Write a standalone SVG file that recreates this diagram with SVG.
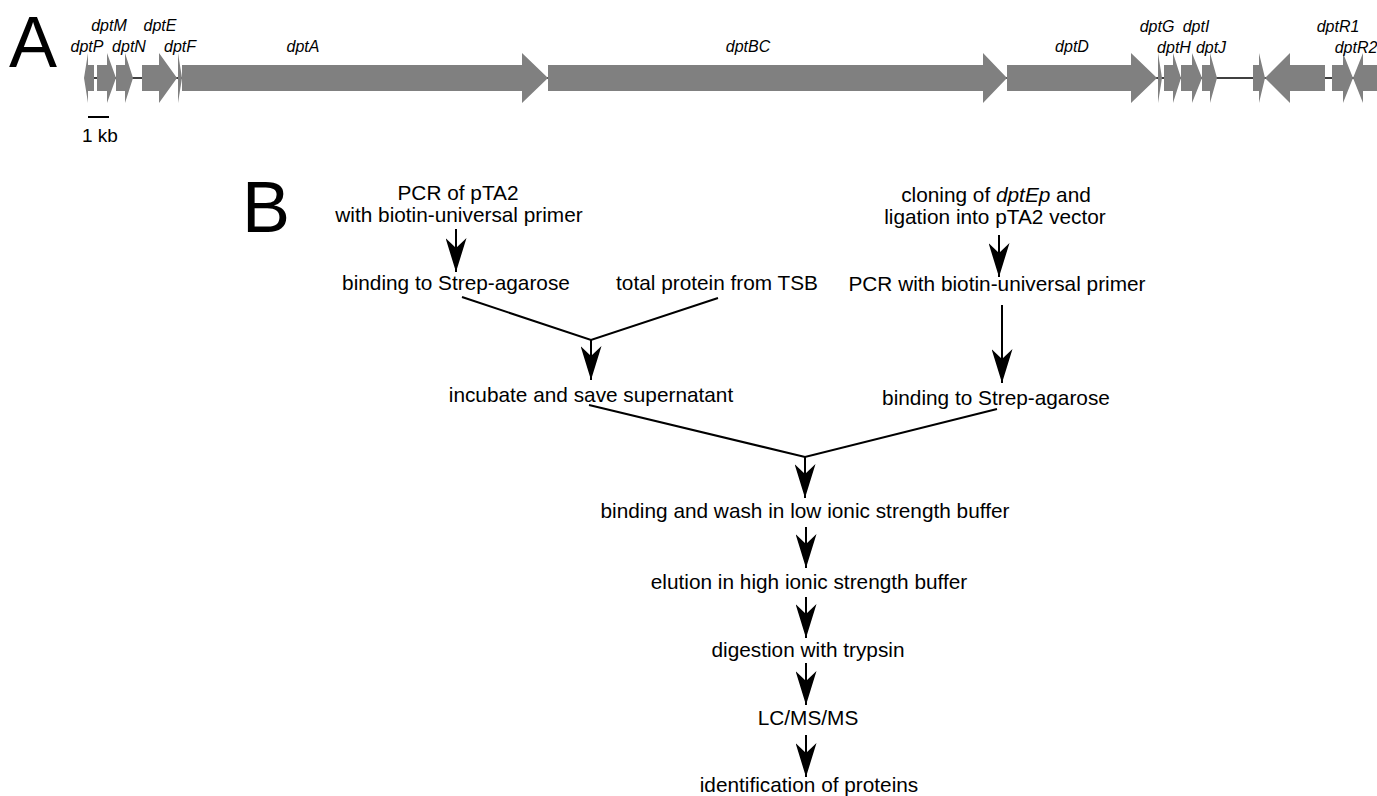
<svg xmlns="http://www.w3.org/2000/svg" width="1377" height="796" viewBox="0 0 1377 796">
<style>
.gene{fill:#808080;stroke:none}
.gl{font-family:"Liberation Sans",Arial,sans-serif;font-style:italic;font-size:16px;fill:#000;text-anchor:middle}
.big{font-family:"Liberation Sans",Arial,sans-serif;font-size:72px;fill:#000}
.t{font-family:"Liberation Sans",Arial,sans-serif;font-size:20.8px;fill:#000;text-anchor:middle}
.c{stroke:#000;stroke-width:2;fill:none}
.ax{stroke:#000;stroke-width:1.5}
</style>
<defs>
<marker id="ah" markerUnits="userSpaceOnUse" markerWidth="34" markerHeight="21" viewBox="0 0 34 21" refX="34" refY="10.5" orient="auto">
<path d="M0,0 L34,10.5 L0,21 L10,10.5 Z" fill="#000"/>
</marker>
</defs>
<rect width="1377" height="796" fill="#fff"/>

<g id="panelA">
<text class="big" x="9" y="67">A</text>
<line class="ax" x1="94" y1="78" x2="1377" y2="78"/>
<g id="dptP"><polygon class="gene" points="84,78 88,53 88,65 94,65 94,91 88,91 88,103"/><text class="gl" x="87" y="52">dptP</text></g>
<g id="dptM"><polygon class="gene" points="97,65 107,65 107,53 116,78 107,103 107,91 97,91"/><text class="gl" x="109" y="31">dptM</text></g>
<g id="dptN"><polygon class="gene" points="116,65 125,65 125,53 133,78 125,103 125,91 116,91"/><text class="gl" x="129" y="52">dptN</text></g>
<g id="dptE"><polygon class="gene" points="142,65 159,65 159,53 177,78 159,103 159,91 142,91"/><text class="gl" x="160" y="31">dptE</text></g>
<g id="dptF"><polygon class="gene" points="178,53 182,78 178,103"/><text class="gl" x="180" y="52">dptF</text></g>
<g id="dptA"><polygon class="gene" points="182,65 522,65 522,53 548,78 522,103 522,91 182,91"/><text class="gl" x="303" y="52">dptA</text></g>
<g id="dptBC"><polygon class="gene" points="548,65 983,65 983,53 1007,78 983,103 983,91 548,91"/><text class="gl" x="748" y="52">dptBC</text></g>
<g id="dptD"><polygon class="gene" points="1007,65 1131,65 1131,53 1157,78 1131,103 1131,91 1007,91"/><text class="gl" x="1072" y="52">dptD</text></g>
<g id="dptG"><polygon class="gene" points="1158,53 1162,78 1158,103"/><text class="gl" x="1157" y="32">dptG</text></g>
<g id="dptH"><polygon class="gene" points="1164,65 1173,65 1173,53 1181,78 1173,103 1173,91 1164,91"/><text class="gl" x="1174" y="53">dptH</text></g>
<g id="dptI"><polygon class="gene" points="1181,65 1192,65 1192,53 1202,78 1192,103 1192,91 1181,91"/><text class="gl" x="1196" y="32">dptI</text></g>
<g id="dptJ"><polygon class="gene" points="1202,65 1210,65 1210,53 1217,78 1210,103 1210,91 1202,91"/><text class="gl" x="1211" y="53">dptJ</text></g>
<g id="gene_u1"><polygon class="gene" points="1253,65 1259,65 1259,53 1265,78 1259,103 1259,91 1253,91"/></g>
<g id="gene_u2"><polygon class="gene" points="1265,78 1290,53 1290,65 1325,65 1325,91 1290,91 1290,103"/></g>
<g id="dptR1"><polygon class="gene" points="1332,65 1343,65 1343,53 1353,78 1343,103 1343,91 1332,91"/><text class="gl" x="1338" y="32">dptR1</text></g>
<g id="dptR2"><polygon class="gene" points="1353,78 1363,53 1363,65 1377,65 1377,91 1363,91 1363,103"/><text class="gl" x="1356" y="53">dptR2</text></g>
<g id="scale"><line x1="88" y1="117" x2="109" y2="117" stroke="#000" stroke-width="2"/><text x="82" y="142" font-family="Liberation Sans, Arial, sans-serif" font-size="19">1 kb</text></g>
</g>

<g id="panelB">
<text class="big" x="242" y="232">B</text>
<g id="n_pcr_left"><text class="t" x="458" y="200">PCR of pTA2</text><text class="t" x="459" y="222">with biotin-universal primer</text></g>
<g id="n_bind_left"><text class="t" x="456" y="290">binding to Strep-agarose</text></g>
<g id="n_total"><text class="t" x="717" y="290">total protein from TSB</text></g>
<g id="n_incubate"><text class="t" x="591" y="402">incubate and save supernatant</text></g>
<g id="n_cloning"><text class="t" x="996" y="202">cloning of <tspan font-style="italic">dptEp</tspan> and</text><text class="t" x="995" y="224">ligation into pTA2 vector</text></g>
<g id="n_pcr_right"><text class="t" x="997" y="291">PCR with biotin-universal primer</text></g>
<g id="n_bind_right"><text class="t" x="996" y="405">binding to Strep-agarose</text></g>
<g id="n_wash"><text class="t" x="805" y="518">binding and wash in low ionic strength buffer</text></g>
<g id="n_elution"><text class="t" x="809" y="589">elution in high ionic strength buffer</text></g>
<g id="n_digest"><text class="t" x="808" y="657">digestion with trypsin</text></g>
<g id="n_lcms"><text class="t" x="808" y="725">LC/MS/MS</text></g>
<g id="n_ident"><text class="t" x="809" y="792">identification of proteins</text></g>

<g id="connectors">
<line class="c" x1="456" y1="229" x2="456" y2="272" marker-end="url(#ah)"/>
<line class="c" x1="999" y1="235" x2="999" y2="277" marker-end="url(#ah)"/>
<line class="c" x1="1002" y1="305" x2="1002" y2="383" marker-end="url(#ah)"/>
<polyline class="c" points="462,297 591,340 718,298"/>
<line class="c" x1="591" y1="340" x2="591" y2="380" marker-end="url(#ah)"/>
<polyline class="c" points="589,405 805,457 997,409"/>
<line class="c" x1="805" y1="457" x2="805" y2="498" marker-end="url(#ah)"/>
<line class="c" x1="806" y1="527" x2="806" y2="568" marker-end="url(#ah)"/>
<line class="c" x1="806" y1="597" x2="806" y2="638" marker-end="url(#ah)"/>
<line class="c" x1="806" y1="663" x2="806" y2="705" marker-end="url(#ah)"/>
<line class="c" x1="806" y1="735" x2="806" y2="777" marker-end="url(#ah)"/>
</g>
</g>
</svg>
